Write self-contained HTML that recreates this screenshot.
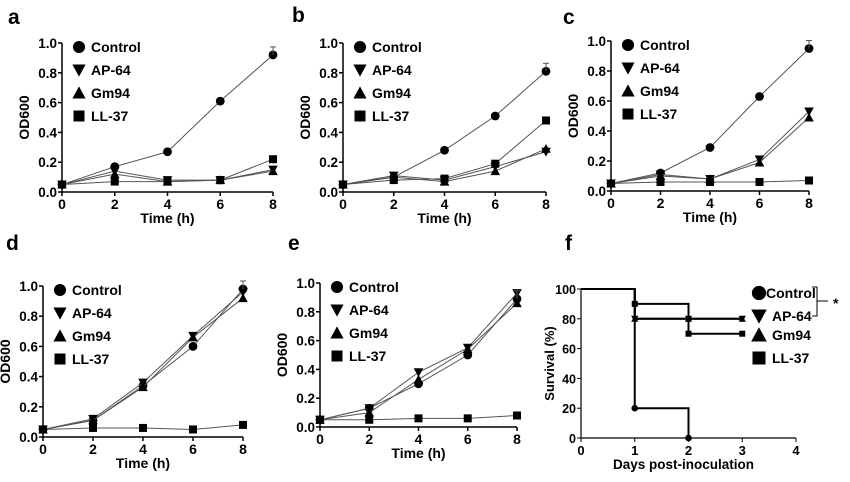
<!DOCTYPE html>
<html><head><meta charset="utf-8"><style>
body{margin:0;background:#fff}
svg{display:block;font-family:"Liberation Sans",Arial,sans-serif;font-weight:bold}
</style></head><body>
<svg id="fig" width="850" height="482" viewBox="0 0 850 482"></svg>
<script>
const timeCats=[0,2,4,6,8];
const seriesNames=["Control","AP-64","Gm94","LL-37"];
const yTicks=[0,0.2,0.4,0.6,0.8,1.0];
const xTicks=[0,2,4,6,8];
const aCtrl=[0.05,0.17,0.27,0.61,0.92], aAP=[0.05,0.14,0.08,0.08,0.15], aGm=[0.05,0.12,0.07,0.08,0.14], aLL=[0.05,0.07,0.07,0.08,0.22];
const bCtrl=[0.05,0.10,0.28,0.51,0.81], bAP=[0.05,0.11,0.08,0.17,0.27], bGm=[0.05,0.10,0.07,0.14,0.29], bLL=[0.05,0.08,0.09,0.19,0.48];
const cCtrl=[0.05,0.12,0.29,0.63,0.95], cAP=[0.05,0.11,0.08,0.21,0.53], cGm=[0.05,0.10,0.08,0.19,0.49], cLL=[0.05,0.06,0.06,0.06,0.07];
const dCtrl=[0.05,0.11,0.34,0.60,0.98], dAP=[0.05,0.12,0.36,0.67,0.96], dGm=[0.05,0.11,0.33,0.66,0.92], dLL=[0.05,0.06,0.06,0.05,0.08];
const eCtrl=[0.05,0.13,0.30,0.50,0.89], eAP=[0.05,0.13,0.38,0.55,0.93], eGm=[0.05,0.10,0.33,0.54,0.86], eLL=[0.05,0.05,0.06,0.06,0.08];
const fDays=[0,1,2,3];
const fTicksX=[0,1,2,3,4];
const fTicksY=[0,20,40,60,80,100];
const fCtrl=[100,20,0,null];
const fAP=[100,80,80,80];
const fGm=[100,80,80,80];
const fLL=[100,90,70,70];

const NS="http://www.w3.org/2000/svg";
const svg=document.getElementById('fig');
function mk(tag,attrs,parent){const e=document.createElementNS(NS,tag);for(const k in attrs)e.setAttribute(k,attrs[k]);(parent||svg).appendChild(e);return e;}
function txt(s,x,y,size,anchor,parent,name){const t=mk('text',{x:x,y:y,'font-size':size,'text-anchor':anchor||'start'},parent);t.textContent=s;


return t;}
function marker(kind,x,y,s,parent){let e;
 if(kind==0)e=mk('circle',{cx:x,cy:y,r:s*0.55,fill:'#000'},parent);
 else if(kind==1)e=mk('polygon',{points:`${x-s*0.6},${y-s*0.5} ${x+s*0.6},${y-s*0.5} ${x},${y+s*0.6}`,fill:'#000'},parent);
 else if(kind==2)e=mk('polygon',{points:`${x-s*0.6},${y+s*0.5} ${x+s*0.6},${y+s*0.5} ${x},${y-s*0.6}`,fill:'#000'},parent);
 else e=mk('rect',{x:x-s*0.5,y:y-s*0.5,width:s,height:s,fill:'#000'},parent);
 
 
 return e;}

function growth(id,letter,lx,ly,x0,x8,y0,y1,data){
 const g=mk('g',{});
 
 
 const X=v=>x0+(x8-x0)*v/8, Y=v=>y0-(y0-y1)*v;
 txt(letter,lx,ly,21,'start',g,'panel-label-'+letter);
 mk('line',{x1:x0,y1:y0,x2:x0,y2:y1,stroke:'#000','stroke-width':1.5},g);
 mk('line',{x1:x0,y1:y0,x2:x8,y2:y0,stroke:'#000','stroke-width':1.5},g);
 yTicks.forEach(t=>{mk('line',{x1:x0-4,y1:Y(t),x2:x0,y2:Y(t),stroke:'#000','stroke-width':1.5},g);
   txt(t.toFixed(1),x0-5,Y(t)+5,13.5,'end',g,'y-tick-label');});
 xTicks.forEach(t=>{mk('line',{x1:X(t),y1:y0,x2:X(t),y2:y0+4,stroke:'#000','stroke-width':1.5},g);
   txt(String(t),X(t),y0+17,14,'middle',g,'x-tick-label');});
 txt('Time (h)',(x0+x8)/2,y0+31,14,'middle',g,'x-axis-title');
 const yt=txt('OD600',0,0,14,'middle',g,'y-axis-title');
 yt.setAttribute('transform',`translate(${x0-33},${(y0+y1)/2}) rotate(-90)`);
 data.forEach((arr,k)=>{
   const p=arr.map((v,i)=>X(timeCats[i])+','+Y(v)).join(' ');
   const l=mk('polyline',{points:p,fill:'none',stroke:'#555','stroke-width':1},g);
   
   
   arr.forEach((v,i)=>marker(k,X(timeCats[i]),Y(v),8,g));
 });
 const cx=X(8),cy=Y(data[0][4]);
 mk('line',{x1:cx,y1:cy,x2:cx,y2:cy-8,stroke:'#555'},g);
 mk('line',{x1:cx-3,y1:cy-8,x2:cx+3,y2:cy-8,stroke:'#555'},g);
 seriesNames.forEach((n,k)=>{const ry=y1+4+k*23;
   marker(k,x0+17,ry,11,g);
   txt(n,x0+29,ry+5,14,'start',g,'legend-entry-'+n.toLowerCase());});
}
growth('a','a',8,24,62,273,192,43,[aCtrl,aAP,aGm,aLL]);
growth('b','b',292,22,343,546,192,43,[bCtrl,bAP,bGm,bLL]);
growth('c','c',563,24,611,809,191,41,[cCtrl,cAP,cGm,cLL]);
growth('d','d',6,250,43,243,437,286,[dCtrl,dAP,dGm,dLL]);
growth('e','e',288,250,320,517,427,283,[eCtrl,eAP,eGm,eLL]);

// panel f
(function(){
 const g=mk('g',{});
 
 
 const x0=581,x4=796,y0=438,y1=289;
 const X=v=>x0+(x4-x0)*v/4, Y=v=>y0-(y0-y1)*v/100;
 txt('f',565,250,21,'start',g,'panel-label-f');
 mk('line',{x1:x0,y1:y0,x2:x0,y2:y1,stroke:'#000','stroke-width':1.2},g);
 mk('line',{x1:x0,y1:y0,x2:x4,y2:y0,stroke:'#000','stroke-width':1.2},g);
 fTicksY.forEach(t=>{mk('line',{x1:x0-4,y1:Y(t),x2:x0,y2:Y(t),stroke:'#000'},g);
   txt(String(t),x0-5,Y(t)+5,12.5,'end',g,'y-tick-label');});
 fTicksX.forEach(t=>{mk('line',{x1:X(t),y1:y0,x2:X(t),y2:y0+4,stroke:'#000'},g);
   txt(String(t),X(t),y0+17,13,'middle',g,'x-tick-label');});
 txt('Days post-inoculation',(x0+x4)/2-5,y0+31,13.5,'middle',g,'x-axis-title');
 const yt=txt('Survival (%)',0,0,13,'middle',g,'y-axis-title');
 yt.setAttribute('transform',`translate(${x0-27},${(y0+y1)/2}) rotate(-90)`);
 [fCtrl,fAP,fGm,fLL].forEach((arr,k)=>{
   let pts=[];
   for(let i=0;i<arr.length;i++){if(arr[i]==null)break;
     if(i>0)pts.push(X(fDays[i])+','+Y(arr[i-1]));
     pts.push(X(fDays[i])+','+Y(arr[i]));}
   const l=mk('polyline',{points:pts.join(' '),fill:'none',stroke:'#000','stroke-width':2},g);
   
   
   for(let i=1;i<arr.length;i++){if(arr[i]==null)break;marker(k,X(fDays[i]),Y(arr[i]),6,g);}
 });
 const lx=759;
 seriesNames.forEach((n,k)=>{const ry=[293,316,335,358][k];
   marker(k,lx,ry,13,g);
   txt(n,k==0?lx+7:lx+13,ry+5,14,'start',g,'legend-entry-'+n.toLowerCase());});
 mk('polyline',{points:'812,287 817,287 817,316 812,316',fill:'none',stroke:'#000','stroke-width':1},g);
 mk('line',{x1:817,y1:301,x2:828,y2:301,stroke:'#000'},g);
 txt('*',833,308,14,'start',g,'significance-star');
})();
</script>
</body></html>
